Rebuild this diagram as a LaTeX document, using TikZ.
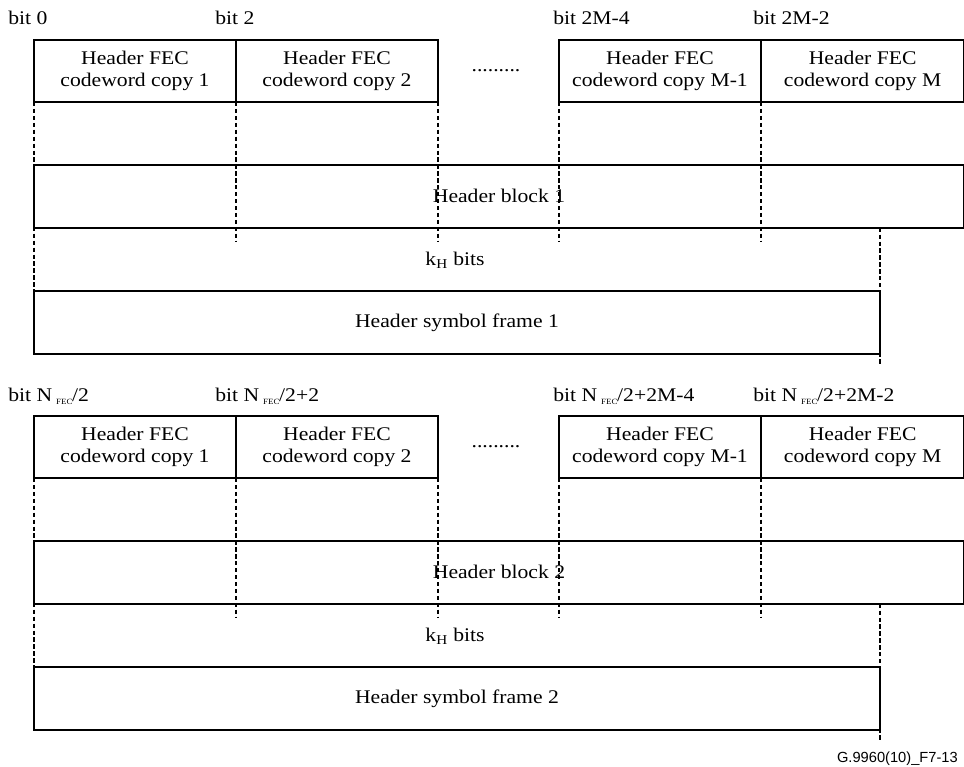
\documentclass[tikz,border=0pt]{standalone}
\usepackage{fontspec}
\setmainfont{Liberation Serif}[FakeStretch=1.12]
\newfontfamily\figfont{Liberation Sans}
\usetikzlibrary{positioning}

% N_FEC with the tiny subscript
\newcommand{\nfec}{N\kern3pt\raisebox{-0.45ex}{\fontsize{6}{6}\selectfont FEC}\kern-0.3pt/}

\tikzset{
  cwbox/.style={draw, line width=1.3pt, minimum width=151.5pt, minimum height=46.5pt,
                inner sep=0pt, outer sep=0pt, align=center},
  blkbox/.style={draw, line width=1.3pt, minimum height=47pt, inner sep=0pt, outer sep=0pt},
  bitlbl/.style={anchor=base west, inner sep=0pt},
  tick/.style={line width=1.8pt, dash pattern=on 3.2pt off 2pt},
  figlbl/.style={font=\figfont\fontsize{11}{11}\selectfont, inner sep=0pt}
}

\begin{document}
\begin{tikzpicture}[x=0.75pt, y=-0.75pt, font=\fontsize{14.5}{16.5}\selectfont]
    \useasboundingbox (0,0) rectangle (964,767);

    % ================= HEADER BLOCK 1 (Top) =================
    \begin{scope}
        % 1. Codeword copies
        \node[cwbox, anchor=north west] (cw1a) at (34,40) {Header FEC\\codeword copy 1};
        \node[cwbox, right=0pt of cw1a] (cw2a) {Header FEC\\codeword copy 2};
        \node[cwbox, anchor=north west] (cwPa) at (559,40) {Header FEC\\codeword copy M-1};
        \node[cwbox, right=0pt of cwPa, minimum width=152.5pt] (cwMa) {Header FEC\\codeword copy M};
        \node (dotsa) at (496,71) {.........};

        % 2. Bit labels
        \node[bitlbl] (b0a) at (8,25) {bit 0};
        \node[bitlbl] (b2a) at (215,25) {bit 2};
        \node[bitlbl] (b2M4a) at (553,25) {bit 2M-4};
        \node[bitlbl] (b2M2a) at (753,25) {bit 2M-2};

        % 3. Header block and symbol frame
        \node[blkbox, minimum width=697.5pt, anchor=north west] (hba) at (34,165) {Header block 1};
        \node (kha) at (455,260) {k\textsubscript{H} bits};
        \node[blkbox, minimum width=634.5pt, anchor=north west] (sfa) at (34,291) {Header symbol frame 1};

        % 4. Dashed ticks
        \coordinate (t2a) at (236,242);
        \coordinate (t3a) at (438,242);
        \coordinate (t4a) at (559,242);
        \coordinate (t5a) at (761,242);
        \coordinate (enda) at (880,364);
        \draw[tick] (cw1a.south west) -- (sfa.north west);
        \draw[tick] (cw2a.south west) -- (t2a);
        \draw[tick] (cw2a.south east) -- (t3a);
        \draw[tick] (cwPa.south west) -- (t4a);
        \draw[tick] (cwMa.south west) -- (t5a);
        \draw[tick] (sfa.north east |- hba.south) -- (enda);
    \end{scope}

    % ================= HEADER BLOCK 2 (Bottom) =================
    \begin{scope}[shift={(0,376)}]
        % 1. Codeword copies
        \node[cwbox, anchor=north west] (cw1b) at (34,40) {Header FEC\\codeword copy 1};
        \node[cwbox, right=0pt of cw1b] (cw2b) {Header FEC\\codeword copy 2};
        \node[cwbox, anchor=north west] (cwPb) at (559,40) {Header FEC\\codeword copy M-1};
        \node[cwbox, right=0pt of cwPb, minimum width=152.5pt] (cwMb) {Header FEC\\codeword copy M};
        \node (dotsb) at (496,71) {.........};

        % 2. Bit labels
        \node[bitlbl] (b0b) at (8,25) {bit \nfec2};
        \node[bitlbl] (b2b) at (215,25) {bit \nfec2+2};
        \node[bitlbl] (b2M4b) at (553,25) {bit \nfec2+2M-4};
        \node[bitlbl] (b2M2b) at (753,25) {bit \nfec2+2M-2};

        % 3. Header block and symbol frame
        \node[blkbox, minimum width=697.5pt, anchor=north west] (hbb) at (34,165) {Header block 2};
        \node (khb) at (455,260) {k\textsubscript{H} bits};
        \node[blkbox, minimum width=634.5pt, anchor=north west] (sfb) at (34,291) {Header symbol frame 2};

        % 4. Dashed ticks
        \coordinate (t2b) at (236,242);
        \coordinate (t3b) at (438,242);
        \coordinate (t4b) at (559,242);
        \coordinate (t5b) at (761,242);
        \coordinate (endb) at (880,366);
        \draw[tick] (cw1b.south west) -- (sfb.north west);
        \draw[tick] (cw2b.south west) -- (t2b);
        \draw[tick] (cw2b.south east) -- (t3b);
        \draw[tick] (cwPb.south west) -- (t4b);
        \draw[tick] (cwMb.south west) -- (t5b);
        \draw[tick] (sfb.north east |- hbb.south) -- (endb);
    \end{scope}

    % Figure id
    \node[figlbl, anchor=base east] (figid) at (958,762) {G.9960(10)\_F7-13};

\end{tikzpicture}
\end{document}
